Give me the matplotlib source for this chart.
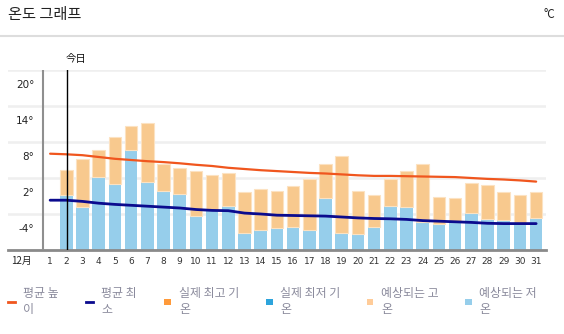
import numpy as np
import matplotlib
matplotlib.use("Agg")
import matplotlib.pyplot as plt
import matplotlib.transforms as mtransforms
from matplotlib.patches import Rectangle
from matplotlib.lines import Line2D

plt.rcParams['font.family'] = ['Noto Sans CJK KR', 'DejaVu Sans']

# ---------------- data ----------------
days = list(range(1, 32))
day_labels = [str(d) for d in days]
forecast_days = list(range(2, 32))
forecast_high = [3.4, 5.2, 6.7, 8.9, 10.6, 11.1, 4.3, 3.7, 3.2, 2.5, 2.8, -0.4, 0.1, -0.1, 0.6,
                 1.8, 4.3, 5.6, -0.2, -0.9, 1.9, 3.2, 4.4, -1.1, -1.3, 1.1, 0.9, -0.3, -0.8, -0.4]
forecast_low = [-0.8, -2.8, 2.1, 1.0, 6.7, 1.4, -0.1, -0.7, -4.4, -3.3, -2.6, -7.2, -6.7, -6.4, -6.2,
                -6.7, -1.4, -7.2, -7.4, -6.2, -2.6, -2.9, -5.4, -5.6, -5.4, -3.8, -4.8, -5.0, -5.6, -4.6]
avg_high = [6.05, 5.95, 5.8, 5.5, 5.2, 5.0, 4.8, 4.65, 4.45, 4.2, 4.0, 3.7, 3.5, 3.3, 3.15, 3.0,
            2.85, 2.75, 2.6, 2.45, 2.35, 2.35, 2.3, 2.25, 2.2, 2.15, 2.0, 1.85, 1.75, 1.6, 1.4]
avg_low = [-1.7, -1.7, -1.9, -2.2, -2.4, -2.55, -2.7, -2.85, -3.0, -3.25, -3.4, -3.45, -3.85, -4.0,
           -4.2, -4.25, -4.3, -4.35, -4.5, -4.65, -4.75, -4.8, -4.9, -5.1, -5.2, -5.3, -5.4, -5.55,
           -5.6, -5.6, -5.6]
y_ticks = [20, 14, 8, 2, -4]
y_tick_labels = ["20°", "14°", "8°", "2°", "-4°"]
today = 2
title = "온도 그래프"
unit = "°C"
today_label = "今日"
month_label = "12月"
legend_labels = ["평균 높\n이", "평균 최\n소", "실제 최고 기\n온", "실제 최저 기\n온", "예상되는 고\n온", "예상되는 저\n온"]
legend_colors = ["#F0561E", "#0B0B8E", "#FF9A3A", "#2DA4DC", "#FFCC99", "#96CEEB"]
legend_kinds = ["line", "line", "box", "box", "box", "box"]

# ---------------- figure ----------------
W, H = 564, 334
fig = plt.figure(figsize=(W / 100, H / 100), dpi=100)

def fx(x):
    return x / W

def fy(y):
    return 1 - y / H

ax_left, ax_right, ax_top, ax_bot = 8, 545.7, 70, 250
ax = fig.add_axes([fx(ax_left), fy(ax_bot), fx(ax_right - ax_left), (ax_bot - ax_top) / H])
ymin, ymax = -10, 20
ax.set_ylim(ymin, ymax)
ax.set_xlim(-1.6, 31.59)
for s in ax.spines.values():
    s.set_visible(False)

ax.set_yticks([-10, -4, 2, 8, 14, 20])
ax.set_yticklabels([])
ax.tick_params(axis='y', length=0)
ax.grid(axis='y', color='#efefef', linewidth=1.8)
ax.grid(axis='x', visible=False)
ax.set_axisbelow(True)

# bars
low_h = [l - ymin for l in forecast_low]
ax.bar(forecast_days, low_h, bottom=ymin, width=0.78, color='#96CEEB', linewidth=0, zorder=2)
hi_h = [h - l for h, l in zip(forecast_high, forecast_low)]
ax.bar(forecast_days, hi_h, bottom=forecast_low, width=0.78, color='#F8C98E',
       edgecolor='#FCE2C2', linewidth=0.8, zorder=2)

# lines
ax.plot(days, avg_high, color='#F0561E', linewidth=1.6, zorder=4, solid_capstyle='round')
ax.plot(days, avg_low, color='#0B0B8E', linewidth=2.0, zorder=4, solid_capstyle='round')

# axis lines
ax.axhline(ymin, color='#8a8a8a', linewidth=2.0, zorder=5, clip_on=False)
ax.axvline(0.56, color='#8f8f8f', linewidth=1.5, zorder=5)
ax.axvline(today + 0.03, color='black', linewidth=1.0, zorder=6)

# y labels (drawn below their gridlines)
blend = mtransforms.blended_transform_factory(ax.transAxes, ax.transData)
for v, lbl in zip(y_ticks, y_tick_labels):
    ax.annotate(lbl, xy=(0.0493, v), xycoords=blend, xytext=(0, -10.8), textcoords='offset points',
                ha='right', va='center', fontsize=7.5, color='#222222',
                family=['Liberation Sans Narrow', 'DejaVu Sans'])

# x labels
ax.set_xticks(days)
ax.set_xticklabels(day_labels, fontsize=6.5, color='#333333', family=['Liberation Sans Narrow', 'DejaVu Sans'])
ax.tick_params(axis='x', length=0, pad=5)
fig.text(fx(21), fy(261), month_label, fontsize=7, ha='center', va='center', color='#222222')

# today label
fig.text(fx(66), fy(59), today_label, fontsize=7.5, ha='left', va='center', color='#111111')

# title, unit, separator
fig.text(fx(8), fy(15), title, fontsize=11, ha='left', va='center', color='#222222')
fig.text(fx(555), fy(15), unit, fontsize=8.5, ha='right', va='center', color='#222222')
fig.add_artist(Line2D([0, 1], [fy(36), fy(36)], color='#dddddd', linewidth=1.5))

# legend
marker_x = [8, 86, 164, 266, 367, 465]
text_x = [23, 101, 179, 280, 381, 479]
for mx, tx, lbl, col, kind in zip(marker_x, text_x, legend_labels, legend_colors, legend_kinds):
    if kind == "line":
        fig.add_artist(Line2D([fx(mx), fx(mx + 7)], [fy(301.5), fy(301.5)], color=col, linewidth=2))
    else:
        fig.add_artist(Rectangle((fx(mx), fy(305)), fx(6.5), 6.5 / H, facecolor=col, edgecolor='none'))
    fig.text(fx(tx), fy(286.5), lbl, fontsize=8.6, ha='left', va='top', color='#8a8a9c', linespacing=1.35)

fig.savefig("out.png", dpi=100)
